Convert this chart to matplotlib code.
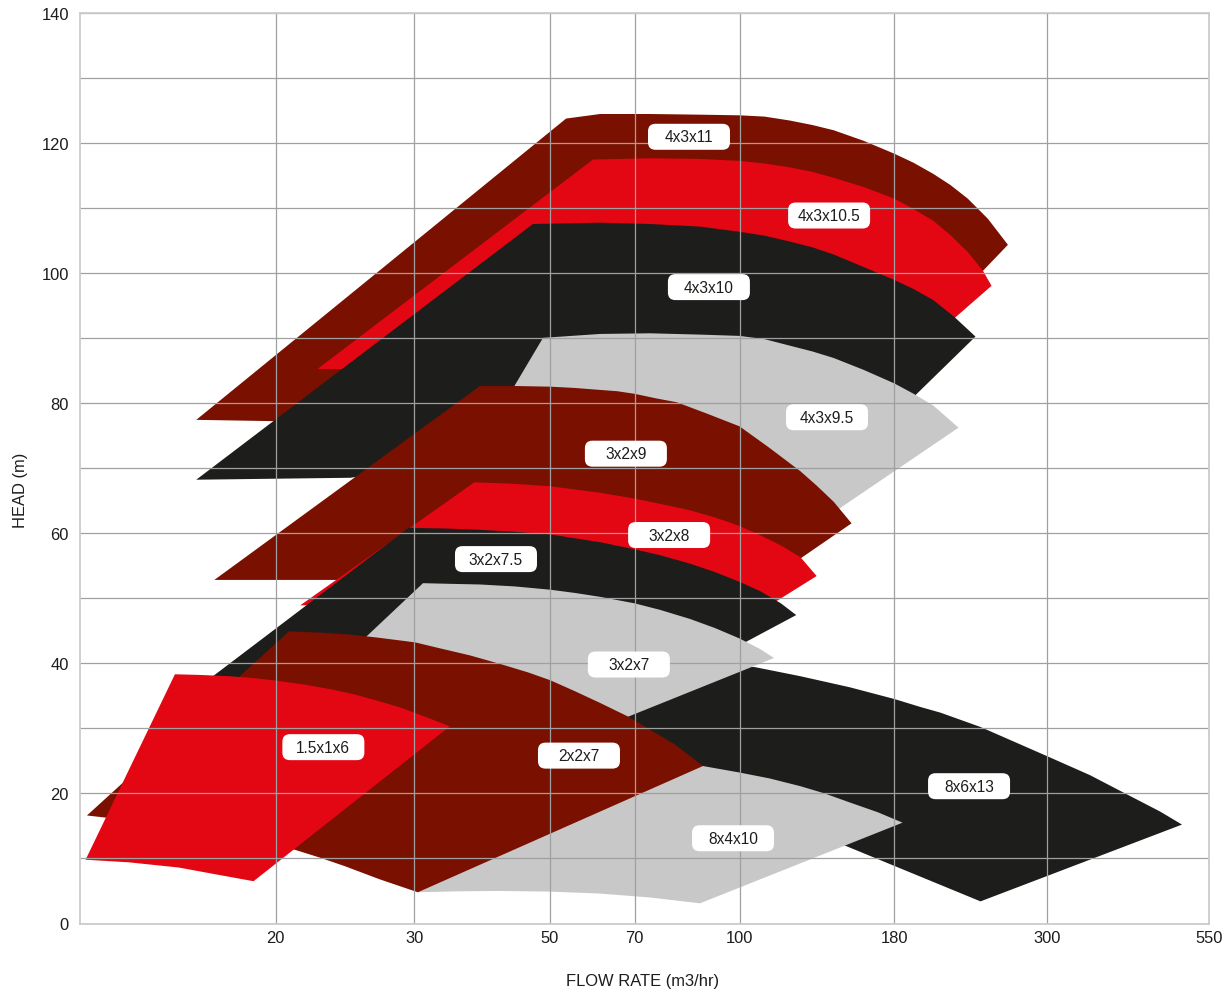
import numpy as np
import matplotlib
matplotlib.use("Agg")
import matplotlib.pyplot as plt
from matplotlib.patches import Polygon, FancyBboxPatch
from matplotlib.transforms import ScaledTranslation
from matplotlib.ticker import FixedLocator, NullLocator, MultipleLocator

# ------------------------------------------------------------------ data
flow_ticks = [20, 30, 50, 70, 100, 180, 300, 550]
flow_tick_labels = ["20", "30", "50", "70", "100", "180", "300", "550"]
head_ticks = [0, 20, 40, 60, 80, 100, 120, 140]

# pump coverage areas: (flow m3/hr, head m) outline of each model
q_4x3x11 = [15.1, 53.3, 61.0, 73.7, 87.4, 100, 110, 121, 132, 143, 160, 180, 192, 205, 217, 230, 246, 263,
            224, 171, 61.0, 19.9]
h_4x3x11 = [77.4, 123.7, 124.4, 124.4, 124.3, 124.2, 124.0, 123.4, 122.7, 121.9, 120.3, 118.3, 116.9, 115.2,
            113.5, 111.4, 108.3, 104.3, 96.6, 91.4, 86.8, 77.2]

q_4x3x10_5 = [22.6, 59.3, 73.7, 87.4, 100, 110, 121, 132, 143, 160, 180, 192, 205, 217, 230, 242, 249,
              203, 87.4, 24.4]
h_4x3x10_5 = [85.2, 117.4, 117.6, 117.5, 117.2, 116.8, 116.2, 115.5, 114.6, 113.2, 111.4, 109.8, 108.0,
              105.8, 103.2, 100.3, 98.0, 89.8, 92.6, 85.2]

q_4x3x10 = [15.1, 46.9, 61.0, 73.7, 87.4, 100, 110, 121, 132, 143, 160, 180, 192, 205, 220, 236,
            171, 61.0, 24.9]
h_4x3x10 = [68.2, 107.5, 107.7, 107.5, 107.1, 106.3, 105.7, 104.8, 103.9, 102.8, 100.9, 98.9, 97.5, 95.8,
            93.2, 90.2, 76.0, 74.5, 68.5]

q_4x3x9_5 = [48.7, 61.0, 73.7, 87.4, 100, 110, 121, 132, 143, 160, 180, 192, 205, 223, 126, 61.0, 40.6]
h_4x3x9_5 = [90.0, 90.6, 90.7, 90.5, 90.3, 89.8, 88.8, 87.9, 86.9, 85.1, 83.0, 81.4, 79.6, 76.2,
             59.7, 71.4, 77.5]

q_3x2x9 = [16.1, 38.4, 43.8, 50, 55.2, 61.0, 65.3, 70, 75.3, 80.8, 89.8, 100, 112, 126, 134, 143, 153,
           108, 61.0, 24.0]
h_3x2x9 = [52.8, 82.6, 82.6, 82.5, 82.3, 82.0, 81.8, 81.4, 80.7, 80.1, 78.3, 76.4, 73.1, 69.5, 67.3, 64.8,
           61.5, 51.8, 56.0, 52.8]

q_3x2x8 = [21.5, 37.6, 43.0, 50, 55.2, 61.0, 70, 76.3, 84.5, 92.0, 100, 108, 117, 126, 134,
           100, 41.4, 22.8]
h_3x2x8 = [48.9, 67.8, 67.6, 67.2, 66.7, 66.2, 65.3, 64.5, 63.5, 62.4, 61.1, 59.7, 58.1, 56.3, 53.4,
           46.0, 49.8, 48.9]

q_3x2x7_5 = [29.5, 33.7, 38.4, 43.8, 50, 55.2, 61.0, 70, 76.3, 84.5, 92.0, 100, 108, 117, 124,
             87.4, 41.4, 14.8]
h_3x2x7_5 = [60.8, 60.7, 60.5, 60.2, 59.8, 59.2, 58.6, 57.5, 56.6, 55.3, 54.0, 52.5, 51.1, 49.2, 47.4,
             39.5, 40.6, 35.4]

q_8x6x13 = [81.7, 106, 126, 152, 180, 196, 210, 240, 265, 300, 352, 409, 458, 497,
            240, 149, 87.4, 52.0]
h_8x6x13 = [40.3, 39.4, 38.0, 36.3, 34.5, 33.3, 32.4, 30.2, 28.2, 25.7, 22.8, 19.6, 17.2, 15.2,
            3.4, 12.0, 19.1, 25.2]

q_3x2x7 = [31.0, 34.3, 38.4, 43.8, 50, 55.2, 61.0, 70, 76.3, 84.5, 92.0, 100, 108, 114,
           56.3, 34.3, 24.9]
h_3x2x7 = [52.3, 52.2, 52.1, 51.8, 51.3, 50.8, 50.2, 49.2, 48.2, 46.8, 45.4, 43.8, 42.2, 40.8,
           28.8, 34.5, 41.8]

q_8x4x10 = [30.4, 61.0, 88.3, 100, 112, 126, 138, 152, 169, 185, 87.4, 73.7, 61.0, 50, 41.4, 35.6]
h_8x4x10 = [4.8, 25.2, 24.2, 23.2, 22.3, 21.1, 20.0, 18.6, 17.1, 15.5, 3.1, 4.0, 4.6, 4.9, 5.0, 4.95]

q_2x2x7 = [10.25, 20.8, 22.8, 24.9, 27.1, 30.1, 33.0, 37.0, 41.4, 46.0, 50, 55.2, 61.0, 68.2, 73.7, 80.3,
           88.3, 30.4, 27.1, 24.5, 22.8, 21.2, 14.8]
h_2x2x7 = [16.6, 44.9, 44.7, 44.4, 43.9, 43.2, 42.3, 41.2, 39.9, 38.6, 37.4, 35.7, 33.9, 31.8, 29.8, 27.5,
           24.2, 4.8, 6.8, 8.8, 10.1, 11.3, 14.8]

q_1_5x1x6 = [14.0, 15.3, 17.0, 18.6, 20.1, 21.8, 23.5, 25.2, 27.0, 28.8, 31.2, 34.3,
             18.5, 16.5, 14.2, 11.9, 10.2]
h_1_5x1x6 = [38.3, 38.2, 38.0, 37.7, 37.3, 36.7, 36.0, 35.2, 34.2, 33.2, 31.8, 30.3,
             6.5, 7.4, 8.6, 9.4, 9.8]

# drawing order (back to front)
models = ["4x3x11", "4x3x10.5", "4x3x10", "4x3x9.5", "3x2x9", "3x2x8",
          "3x2x7.5", "8x6x13", "3x2x7", "8x4x10", "2x2x7", "1.5x1x6"]
model_q = [q_4x3x11, q_4x3x10_5, q_4x3x10, q_4x3x9_5, q_3x2x9, q_3x2x8,
           q_3x2x7_5, q_8x6x13, q_3x2x7, q_8x4x10, q_2x2x7, q_1_5x1x6]
model_h = [h_4x3x11, h_4x3x10_5, h_4x3x10, h_4x3x9_5, h_3x2x9, h_3x2x8,
           h_3x2x7_5, h_8x6x13, h_3x2x7, h_8x4x10, h_2x2x7, h_1_5x1x6]

# label anchor points for each model (flow, head)
label_q = [84.2, 140.5, 90.1, 139.4, 67.6, 78.7, 40.8, 231.0, 68.4, 97.8, 56.1, 23.0]
label_h = [120.9, 108.8, 97.8, 77.8, 72.2, 59.7, 56.0, 21.1, 39.8, 13.1, 25.8, 27.1]

# ------------------------------------------------------------------ style
DARK_RED = "#7a1000"
RED = "#e30613"
BLACK = "#1d1d1b"
GREY = "#c8c8c8"
model_colors = [DARK_RED, RED, BLACK, GREY, DARK_RED, RED,
                BLACK, BLACK, GREY, GREY, DARK_RED, RED]

FONT = ["Liberation Sans", "DejaVu Sans"]
plt.rcParams["font.family"] = FONT

# custom flow axis: piecewise log spacing between the chart's tick gridlines
_kv = np.log10([10, 20, 30, 50, 70, 100, 180, 300, 550])
_kp = np.array([0.0, 0.1732, 0.2961, 0.4163, 0.4913, 0.5842, 0.7213, 0.8568, 1.0])


def _pw(x, xs, ys):
    x = np.asarray(x, dtype=float)
    out = np.interp(x, xs, ys)
    lo = x < xs[0]
    hi = x > xs[-1]
    out = np.where(lo, ys[0] + (x - xs[0]) * (ys[1] - ys[0]) / (xs[1] - xs[0]), out)
    out = np.where(hi, ys[-1] + (x - xs[-1]) * (ys[-1] - ys[-2]) / (xs[-1] - xs[-2]), out)
    return np.where(np.isfinite(x), out, np.nan)


def fwd(x):
    with np.errstate(all="ignore"):
        lx = np.log10(np.asarray(x, dtype=float))
    return _pw(lx, _kv, _kp)


def inv(y):
    return 10.0 ** _pw(y, _kp, _kv)


W, H = 1232, 995
fig = plt.figure(figsize=(W / 100, H / 100), dpi=100)
ax = fig.add_axes([80 / W, (H - 924.5) / H, 1129 / W, 911 / H])
ax.set_xscale("function", functions=(fwd, inv))
ax.set_xlim(10, 550)
ax.set_ylim(0, 140)

for q, h, c in zip(model_q, model_h, model_colors):
    ax.add_patch(Polygon(np.column_stack([q, h]), closed=True, facecolor=c,
                         edgecolor="none", linewidth=0, zorder=1))

# ticks & grid
ax.xaxis.set_major_locator(FixedLocator(flow_ticks))
ax.set_xticklabels(flow_tick_labels)
ax.xaxis.set_minor_locator(NullLocator())
ax.yaxis.set_major_locator(FixedLocator(head_ticks))
ax.yaxis.set_minor_locator(MultipleLocator(10))
ax.set_axisbelow(False)
ax.grid(True, which="both", color="#a0a0a0", linewidth=0.9, zorder=2)
ax.tick_params(axis="both", which="both", length=0, labelsize=11.9,
               labelcolor="#1d1d1b")
ax.tick_params(axis="x", pad=5)
ax.tick_params(axis="y", pad=8)
for s in ax.spines.values():
    s.set_color("#cccccc")
    s.set_linewidth(1.3)
    s.set_zorder(3)

ax.set_xlabel("FLOW RATE (m3/hr)", fontsize=11.9, color="#1d1d1b")
ax.set_ylabel("HEAD (m)", fontsize=11.9, color="#1d1d1b")
ax.xaxis.label.set_va("center")
ax.yaxis.label.set_va("center")
ax.xaxis.set_label_coords(0.4985, -0.0626)
ax.yaxis.set_label_coords(-0.0531, 0.477)

# fixed-size rounded white label boxes
bw, bh, br = 0.82, 0.26, 0.075
for name, q, h in zip(models, label_q, label_h):
    tr = fig.dpi_scale_trans + ScaledTranslation(q, h, ax.transData)
    ax.add_patch(FancyBboxPatch((-bw / 2, -bh / 2), bw, bh,
                                boxstyle=f"round,pad=0,rounding_size={br}",
                                facecolor="white", edgecolor="none",
                                transform=tr, zorder=4, clip_on=False))
    ax.text(q, h, name, ha="center", va="center", fontsize=11.2,
            color="#1d1d1b", zorder=5)

fig.savefig("out.png", dpi=100)
